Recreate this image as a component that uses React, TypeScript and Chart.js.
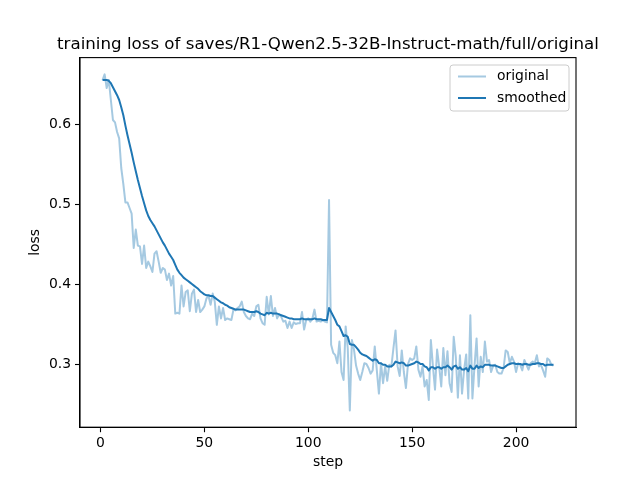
import React, { useEffect, useRef } from "react";
import { Chart, registerables } from "chart.js";

Chart.register(...registerables);

const TITLE = "training loss of saves/R1-Qwen2.5-32B-Instruct-math/full/original";
const X_LABEL = "step";
const Y_LABEL = "loss";
const SERIES_NAMES = ["original", "smoothed"];
const X_TICKS = [0, 50, 100, 150, 200];
const Y_TICKS = [0.3, 0.4, 0.5, 0.6];

const ORIGINAL = [
  0.655, 0.662, 0.645, 0.655, 0.630, 0.605, 0.602, 0.590, 0.582, 0.545,
  0.525, 0.502, 0.502, 0.495, 0.488, 0.445, 0.468, 0.448, 0.447, 0.425,
  0.448, 0.420, 0.428, 0.422, 0.415, 0.438, 0.441, 0.428, 0.414, 0.420,
  0.418, 0.405, 0.413, 0.398, 0.410, 0.363, 0.364, 0.363, 0.398, 0.372,
  0.390, 0.392, 0.366, 0.388, 0.393, 0.365, 0.380, 0.365, 0.368, 0.372,
  0.382, 0.385, 0.374, 0.388, 0.378, 0.349, 0.372, 0.357, 0.370, 0.355,
  0.357, 0.356, 0.355, 0.368, 0.367, 0.370, 0.372, 0.378, 0.365, 0.360,
  0.357, 0.356, 0.363, 0.360, 0.372, 0.374, 0.357, 0.351, 0.349, 0.384,
  0.362, 0.385, 0.360, 0.370, 0.357, 0.362, 0.359, 0.353, 0.354, 0.345,
  0.353, 0.345, 0.352, 0.350, 0.351, 0.351, 0.365, 0.343, 0.355, 0.357,
  0.353, 0.357, 0.368, 0.353, 0.354, 0.353, 0.355, 0.353, 0.352, 0.505,
  0.324, 0.314, 0.311, 0.301, 0.328, 0.290, 0.280, 0.347, 0.320, 0.242,
  0.330, 0.318, 0.298, 0.288, 0.280, 0.290, 0.301, 0.300, 0.295, 0.288,
  0.292, 0.322, 0.292, 0.263, 0.301, 0.276, 0.297, 0.279, 0.299, 0.297,
  0.320, 0.342, 0.297, 0.285, 0.317, 0.290, 0.270, 0.300, 0.307, 0.305,
  0.307, 0.322, 0.293, 0.284, 0.297, 0.272, 0.280, 0.255, 0.330, 0.297,
  0.268, 0.318, 0.297, 0.272, 0.320, 0.286, 0.316, 0.276, 0.265, 0.334,
  0.309, 0.258, 0.311, 0.263, 0.293, 0.312, 0.257, 0.361, 0.257, 0.297,
  0.332, 0.272, 0.309, 0.290, 0.328, 0.303, 0.305, 0.290, 0.298, 0.299,
  0.290, 0.288, 0.288, 0.295, 0.317, 0.315, 0.301, 0.309, 0.303, 0.290,
  0.301, 0.299, 0.292, 0.305, 0.299, 0.293, 0.301, 0.303, 0.301, 0.311,
  0.297, 0.299, 0.292, 0.284, 0.307, 0.305, 0.299, 0.298,
];

const SMOOTHED = [
  0.655, 0.655, 0.655, 0.654, 0.651, 0.646, 0.641, 0.636, 0.630, 0.621,
  0.611, 0.598, 0.586, 0.575, 0.564, 0.552, 0.541, 0.530, 0.520, 0.510,
  0.501, 0.492, 0.485, 0.480, 0.476, 0.472, 0.467, 0.462, 0.457, 0.452,
  0.448, 0.443, 0.438, 0.434, 0.430, 0.424, 0.418, 0.414, 0.411, 0.408,
  0.406, 0.404, 0.402, 0.400, 0.398, 0.396, 0.394, 0.391, 0.389, 0.387,
  0.386, 0.386, 0.385, 0.385, 0.383, 0.381, 0.379, 0.377, 0.376, 0.374,
  0.373, 0.371, 0.370, 0.369, 0.368, 0.368, 0.368, 0.368, 0.368, 0.367,
  0.366, 0.365, 0.365, 0.365, 0.366, 0.365, 0.363, 0.362, 0.361, 0.364,
  0.363, 0.364, 0.363, 0.363, 0.363, 0.362, 0.361, 0.360, 0.359, 0.358,
  0.357, 0.357, 0.356, 0.356, 0.356, 0.356, 0.357, 0.356, 0.356, 0.356,
  0.356, 0.356, 0.357, 0.356, 0.356, 0.356, 0.355, 0.355, 0.355, 0.370,
  0.365, 0.360, 0.355, 0.349, 0.347, 0.341, 0.335, 0.336, 0.334, 0.325,
  0.324, 0.324, 0.321, 0.318, 0.314, 0.312, 0.311, 0.310, 0.308, 0.306,
  0.304, 0.306, 0.305, 0.301, 0.301, 0.299, 0.299, 0.297, 0.297, 0.297,
  0.299, 0.303, 0.302, 0.301, 0.302, 0.301, 0.298, 0.298, 0.299, 0.300,
  0.301, 0.303, 0.302, 0.300, 0.300, 0.297, 0.296, 0.292, 0.296, 0.296,
  0.294, 0.296, 0.296, 0.294, 0.296, 0.296, 0.298, 0.296, 0.293, 0.297,
  0.298, 0.294, 0.296, 0.293, 0.293, 0.295, 0.291, 0.298, 0.294, 0.294,
  0.298, 0.295, 0.297, 0.296, 0.299, 0.299, 0.299, 0.298, 0.298, 0.298,
  0.297, 0.296, 0.295, 0.295, 0.297, 0.299, 0.300, 0.301, 0.301, 0.300,
  0.300, 0.300, 0.299, 0.300, 0.300, 0.299, 0.299, 0.300, 0.300, 0.301,
  0.301, 0.300, 0.300, 0.298, 0.299, 0.299, 0.299, 0.299,
];

const STEPS = ORIGINAL.map((_, i) => i + 1);

const BLUE = "#1f77b4";
const BLUE_LIGHT = "rgba(31,119,180,0.4)";
const FONT = '"DejaVu Sans", "Liberation Sans", sans-serif';

const overlayPlugin = {
  id: "mplOverlay",
  afterDraw(chart: any) {
    const { ctx, chartArea: a } = chart;
    ctx.save();
    // axes frame
    ctx.strokeStyle = "#000";
    ctx.lineWidth = 1.1;
    ctx.strokeRect(a.left, a.top, a.right - a.left, a.bottom - a.top);
    const cx = (a.left + a.right) / 2;
    const cy = (a.top + a.bottom) / 2;
    ctx.fillStyle = "#000";
    // title
    ctx.font = `16.67px ${FONT}`;
    ctx.textAlign = "center";
    ctx.textBaseline = "alphabetic";
    ctx.fillText(TITLE, cx, a.top - 8.5);
    // x label
    ctx.font = `13.9px ${FONT}`;
    ctx.textBaseline = "middle";
    ctx.fillText(X_LABEL, cx, 462);
    // y label
    ctx.save();
    ctx.translate(35, cy);
    ctx.rotate(-Math.PI / 2);
    ctx.fillText(Y_LABEL, 0, 0);
    ctx.restore();
    // legend
    const lx = 450, ly = 65, lw = 119, lh = 46, r = 3;
    ctx.beginPath();
    ctx.moveTo(lx + r, ly);
    ctx.lineTo(lx + lw - r, ly);
    ctx.quadraticCurveTo(lx + lw, ly, lx + lw, ly + r);
    ctx.lineTo(lx + lw, ly + lh - r);
    ctx.quadraticCurveTo(lx + lw, ly + lh, lx + lw - r, ly + lh);
    ctx.lineTo(lx + r, ly + lh);
    ctx.quadraticCurveTo(lx, ly + lh, lx, ly + lh - r);
    ctx.lineTo(lx, ly + r);
    ctx.quadraticCurveTo(lx, ly, lx + r, ly);
    ctx.closePath();
    ctx.fillStyle = "rgba(255,255,255,0.8)";
    ctx.fill();
    ctx.strokeStyle = "#cccccc";
    ctx.lineWidth = 1;
    ctx.stroke();
    const colors = [BLUE_LIGHT, BLUE];
    SERIES_NAMES.forEach((name, i) => {
      const y = ly + 11.5 + i * 21.5;
      ctx.strokeStyle = colors[i];
      ctx.lineWidth = 2;
      ctx.beginPath();
      ctx.moveTo(lx + 8, y);
      ctx.lineTo(lx + 36, y);
      ctx.stroke();
      ctx.fillStyle = "#000";
      ctx.font = `13.9px ${FONT}`;
      ctx.textAlign = "left";
      ctx.textBaseline = "middle";
      ctx.fillText(name, lx + 47, y);
    });
    ctx.restore();
  },
};

export default function App() {
  const ref = useRef<HTMLCanvasElement | null>(null);

  useEffect(() => {
    if (!ref.current) return;
    const xMinData = STEPS[0];
    const xMaxData = STEPS[STEPS.length - 1];
    const xPad = (xMaxData - xMinData) * 0.05;
    const all = ORIGINAL.concat(SMOOTHED);
    const yMinData = Math.min(...all);
    const yMaxData = Math.max(...all);
    const yPad = (yMaxData - yMinData) * 0.05;

    const chart = new Chart(ref.current, {
      type: "line",
      data: {
        datasets: [
          {
            label: SERIES_NAMES[0],
            data: STEPS.map((s, i) => ({ x: s, y: ORIGINAL[i] })),
            borderColor: BLUE_LIGHT,
            borderWidth: 2,
            pointRadius: 0,
            tension: 0,
            borderJoinStyle: "round",
            order: 1,
          },
          {
            label: SERIES_NAMES[1],
            data: STEPS.map((s, i) => ({ x: s, y: SMOOTHED[i] })),
            borderColor: BLUE,
            borderWidth: 2,
            pointRadius: 0,
            tension: 0,
            borderJoinStyle: "round",
            order: 0,
          },
        ],
      },
      options: {
        animation: false,
        responsive: false,
        devicePixelRatio: 1,
        layout: { padding: { left: 0, top: 57.6, right: 64, bottom: 0 } },
        plugins: { legend: { display: false }, title: { display: false }, tooltip: { enabled: false } },
        events: [],
        scales: {
          x: {
            type: "linear",
            min: xMinData - xPad,
            max: xMaxData + xPad,
            afterFit: (s: any) => { s.height = 52.8; },
            afterBuildTicks: (s: any) => { s.ticks = X_TICKS.map((v) => ({ value: v })); },
            grid: { drawOnChartArea: false, drawTicks: true, tickLength: 5, tickWidth: 1.1, tickColor: "#000" },
            border: { display: true, color: "#000", width: 1.1 },
            ticks: {
              color: "#000",
              font: { family: FONT, size: 13.9 },
              padding: 3,
              maxRotation: 0,
              autoSkip: false,
              callback: (v: any) => String(v),
            },
          },
          y: {
            type: "linear",
            min: yMinData - yPad,
            max: yMaxData + yPad,
            afterFit: (s: any) => { s.width = 80; },
            afterBuildTicks: (s: any) => { s.ticks = Y_TICKS.map((v) => ({ value: v })); },
            grid: { drawOnChartArea: false, drawTicks: true, tickLength: 5, tickWidth: 1.1, tickColor: "#000" },
            border: { display: true, color: "#000", width: 1.1 },
            ticks: {
              color: "#000",
              font: { family: FONT, size: 13.9 },
              padding: 4,
              autoSkip: false,
              callback: (v: any) => Number(v).toFixed(1),
            },
          },
        },
      },
      plugins: [overlayPlugin],
    });
    return () => chart.destroy();
  }, []);

  return (
    <div style={{ position: "absolute", left: 0, top: 0, width: 640, height: 480, background: "#fff" }}>
      <canvas ref={ref} width={640} height={480} style={{ display: "block", width: 640, height: 480 }} />
    </div>
  );
}
